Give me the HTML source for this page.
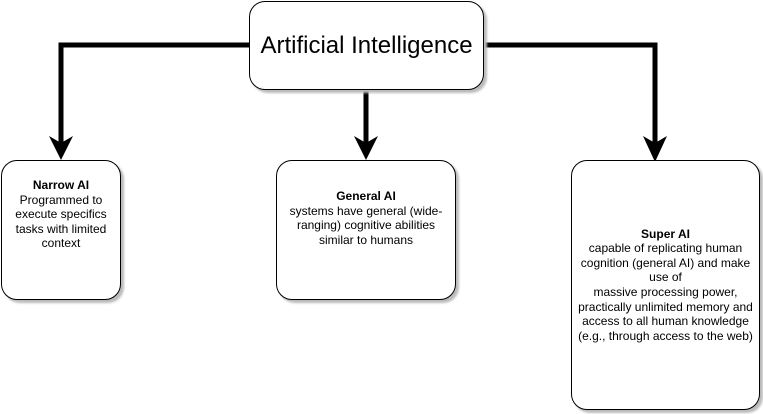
<!DOCTYPE html>
<html><head><style>
body{margin:0;width:763px;height:414px;background:#fff;position:relative;overflow:hidden;font-family:"Liberation Sans",Arial,sans-serif;}
.b{position:absolute;box-sizing:border-box;border:1px solid #000;border-radius:16px;background:#fff;box-shadow:3px 3px 2px #bbb;display:flex;align-items:center;justify-content:center;text-align:center;font-size:12px;line-height:14.6px;color:#000;padding:0 4px;}
</style></head><body>
<svg width="763" height="414" style="position:absolute;left:0;top:0">
<g stroke="#000" stroke-width="5" fill="none">
<polyline points="250,45 61,45 61,150"/>
<line x1="366" y1="90" x2="366" y2="150"/>
<polyline points="484,45 655,45 655,150"/>
</g>
<g fill="#000">
<polygon points="49,136 61,160 73,136 61,143"/>
<polygon points="354,136 366,160 378,136 366,143"/>
<polygon points="643,136 655,162 667,136 655,143"/>
</g>
</svg>
<div class="b" style="left:249px;top:1px;width:235px;height:89px;font-size:24px;line-height:28px;align-items:flex-start;padding-top:30px;">Artificial Intelligence</div>
<div class="b" style="left:1px;top:160px;width:120px;height:140px;align-items:flex-start;padding-top:17px;"><div><b>Narrow AI</b><br>Programmed to execute specifics tasks with limited context</div></div>
<div class="b" style="left:276px;top:160px;width:180px;height:140px;align-items:flex-start;padding-top:28px;"><div><b>General AI</b><br>systems have general (wide-ranging) cognitive abilities similar to humans</div></div>
<div class="b" style="left:571px;top:160px;width:189px;height:250px;"><div><b>Super AI</b><br>capable of replicating human cognition (general AI) and make use of<br>massive processing power, practically unlimited memory and access to all human knowledge (e.g., through access to the web)</div></div>
</body></html>
